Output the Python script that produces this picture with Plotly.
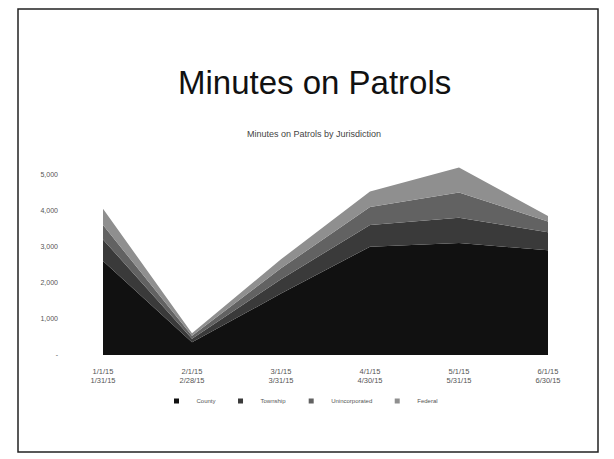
import plotly.graph_objects as go

periods = ["1/1/15<br>1/31/15", "2/1/15<br>2/28/15", "3/1/15<br>3/31/15",
           "4/1/15<br>4/30/15", "5/1/15<br>5/31/15", "6/1/15<br>6/30/15"]
county = [2600, 350, 1700, 3000, 3100, 2900]
township = [600, 100, 400, 600, 700, 500]
unincorporated = [400, 80, 300, 500, 700, 300]
federal = [450, 70, 250, 430, 690, 150]
series_names = ["County", "Township", "Unincorporated", "Federal"]
y_ticks = [0, 1000, 2000, 3000, 4000, 5000]
y_tick_text = ["-", "1,000", "2,000", "3,000", "4,000", "5,000"]

colors = ["#111111", "#3a3a3a", "#626262", "#8f8f8f"]

fig = go.Figure()
for name, vals, c in zip(series_names, [county, township, unincorporated, federal], colors):
    fig.add_trace(go.Scatter(
        x=list(range(len(periods))), y=vals, name=name, stackgroup="one",
        mode="none", fillcolor=c, line=dict(width=0), showlegend=False))
for name, c in zip(series_names, colors):
    fig.add_trace(go.Scatter(
        x=[None], y=[None], name=name, mode="markers",
        marker=dict(symbol="square", size=5, color=c)))

# page has an 8px body margin: design in window pixels, shift by OFF
OFF = 8
W, H = 614 - OFF, 459 - OFF
L, R, T, B = 103 - OFF, 614 - 548, 160 - OFF, 459 - 355
pw, ph = W - L - R, H - T - B

def px(x):
    return (x - OFF - L) / pw

def py(y):
    return (T + ph - (y - OFF)) / ph

fig.update_layout(
    width=W, height=H, margin=dict(l=L, r=R, t=T, b=B, autoexpand=False),
    paper_bgcolor="white", plot_bgcolor="white",
    font=dict(family="Liberation Sans", color="#555555", size=6),
    showlegend=True,
    legend=dict(orientation="h", x=px(300), xanchor="center", y=py(401), yanchor="middle",
                font=dict(size=6, color="#555555"), itemwidth=30, traceorder="normal",
                tracegroupgap=0),
    xaxis=dict(range=[0, 5], tickvals=list(range(len(periods))), ticktext=periods,
               showgrid=False, zeroline=False, showline=False, ticks="",
               ticklabelstandoff=10, tickfont=dict(size=7.5, color="#555555")),
    yaxis=dict(range=[0, 5400], tickvals=y_ticks, ticktext=y_tick_text,
               showgrid=False, zeroline=False, showline=False, ticks="",
               ticklabelstandoff=44, tickfont=dict(size=7, color="#555555")),
    shapes=[dict(type="rect", xref="paper", yref="paper",
                 x0=px(18), x1=px(598), y0=py(452), y1=py(9),
                 line=dict(color="#222222", width=1.5))],
    annotations=[
        dict(text="Minutes on Patrols", xref="paper", yref="paper",
             x=px(314), y=py(62), showarrow=False,
             font=dict(size=33, color="#111111", family="Liberation Sans")),
        dict(text="Minutes on Patrols by Jurisdiction", xref="paper", yref="paper",
             x=px(314), y=py(127), showarrow=False,
             font=dict(size=9, color="#444444", family="Liberation Sans")),
    ],
)

fig.write_html("out.html")
